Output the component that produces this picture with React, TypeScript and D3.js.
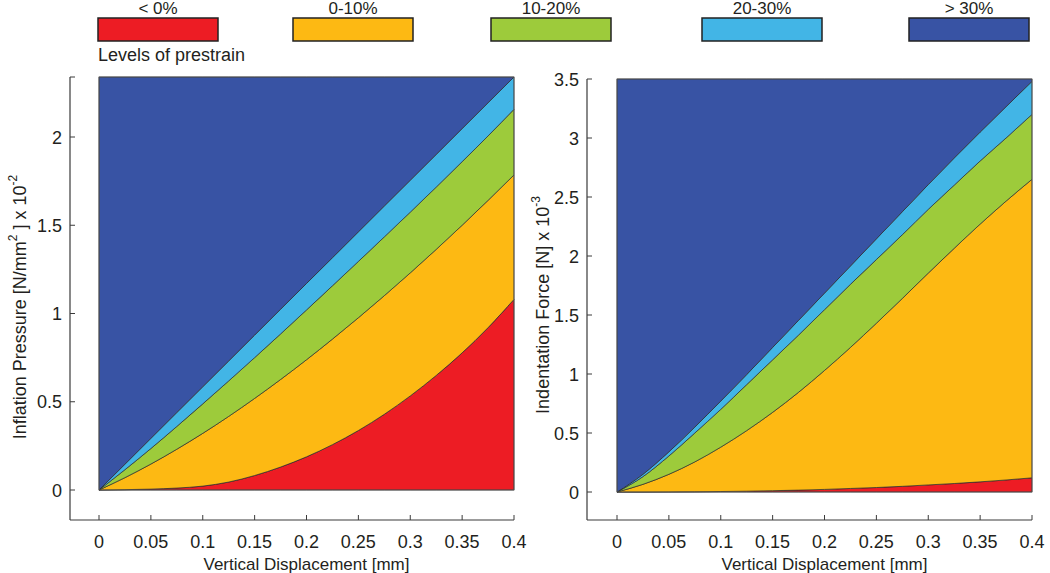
import React from 'react';
import * as d3 from 'd3';

// displacement samples [mm]
const displacement = [0, 0.025, 0.05, 0.075, 0.1, 0.125, 0.15, 0.175, 0.2, 0.225, 0.25, 0.275, 0.3, 0.325, 0.35, 0.375, 0.4];

// Inflation pressure (x 10^-2 N/mm^2) — upper boundaries of each prestrain band
const pressureRed = [0, 0.002, 0.005, 0.011, 0.022, 0.045, 0.082, 0.13, 0.188, 0.257, 0.337, 0.429, 0.533, 0.649, 0.777, 0.92, 1.08];
const pressureOrange = [0, 0.07, 0.147, 0.231, 0.321, 0.417, 0.519, 0.626, 0.738, 0.855, 0.976, 1.101, 1.23, 1.363, 1.5, 1.641, 1.785];
const pressureGreen = [0, 0.115, 0.235, 0.36, 0.488, 0.618, 0.75, 0.884, 1.02, 1.157, 1.295, 1.434, 1.574, 1.716, 1.86, 2.006, 2.157];
const pressureCyan = [0, 0.146, 0.2925, 0.439, 0.585, 0.731, 0.8775, 1.024, 1.17, 1.316, 1.4625, 1.609, 1.755, 1.901, 2.0475, 2.194, 2.34];
const pressureMax = 2.34;

// Indentation force (x 10^-3 N)
const forceRed = [0, 0, 0.001, 0.002, 0.004, 0.007, 0.011, 0.016, 0.022, 0.03, 0.038, 0.048, 0.06, 0.072, 0.086, 0.102, 0.12];
const forceOrange = [0, 0.065, 0.15, 0.255, 0.38, 0.52, 0.675, 0.845, 1.03, 1.225, 1.43, 1.64, 1.855, 2.065, 2.27, 2.465, 2.65];
const forceGreen = [0, 0.13, 0.305, 0.5, 0.7, 0.91, 1.12, 1.33, 1.545, 1.76, 1.97, 2.18, 2.395, 2.6, 2.805, 3.0, 3.2];
const forceCyan = [0, 0.15, 0.34, 0.55, 0.77, 0.995, 1.225, 1.455, 1.685, 1.915, 2.145, 2.375, 2.605, 2.83, 3.05, 3.265, 3.48];
const forceMax = 3.5;

const levelLabels = ['< 0%', '0-10%', '10-20%', '20-30%', '> 30%'];
const levelColors = ['#ED1C24', '#FDB913', '#9DCB3B', '#42B5E6', '#3853A4'];
const xTicks = [0, 0.05, 0.1, 0.15, 0.2, 0.25, 0.3, 0.35, 0.4];
const xTickLabels = ['0', '0.05', '0.1', '0.15', '0.2', '0.25', '0.3', '0.35', '0.4'];
const pressureTicks = [0, 0.5, 1, 1.5, 2];
const pressureTickLabels = ['0', '0.5', '1', '1.5', '2'];
const forceTicks = [0, 0.5, 1, 1.5, 2, 2.5, 3, 3.5];
const forceTickLabels = ['0', '0.5', '1', '1.5', '2', '2.5', '3', '3.5'];

const FONT = "'Liberation Sans', Arial, Helvetica, sans-serif";
const TXT = '#231f20';
const AX = '#3a3a3a';

type PanelProps = {
  series: number[][];
  ymax: number;
  xRange: [number, number];
  yRange: [number, number];
  axisX: number;
  axisBottom: number;
  yTicks: number[];
  yTickLabels: string[];
  showTopStub: boolean;
  title: React.ReactNode;
};

function Panel(p: PanelProps) {
  const x = d3.scaleLinear().domain([0, 0.4]).range(p.xRange);
  const y = d3.scaleLinear().domain([0, p.ymax]).range(p.yRange);
  const zeros = displacement.map(() => 0);
  const tops = displacement.map(() => p.ymax);
  const bounds = [zeros, ...p.series, tops];
  const bands = levelColors.map((c, k) => {
    const lo = bounds[k];
    const hi = bounds[k + 1];
    const a = d3
      .area<number>()
      .x((_, i) => x(displacement[i]))
      .y0((_, i) => y(lo[i]))
      .y1((_, i) => y(hi[i]))
      .curve(d3.curveMonotoneX);
    return <path key={k} d={a(displacement) || ''} fill={c} stroke="#2b2b2b" strokeWidth={0.7} strokeLinejoin="round" />;
  });
  const yTop = y(p.ymax);
  const xEnd = x(0.4);
  return (
    <g>
      {bands}
      <rect x={x(0)} y={yTop} width={xEnd - x(0)} height={y(0) - yTop} fill="none" stroke="#555" strokeWidth={0.8} />
      <line x1={p.axisX} x2={p.axisX} y1={yTop} y2={p.axisBottom} stroke={AX} strokeWidth={1.2} />
      <line x1={p.axisX} x2={xEnd} y1={p.axisBottom} y2={p.axisBottom} stroke={AX} strokeWidth={1.2} />
      {p.showTopStub && <line x1={p.axisX} x2={p.axisX + 5} y1={yTop} y2={yTop} stroke={AX} strokeWidth={1} />}
      {p.yTicks.map((t, i) => (
        <g key={'y' + i}>
          <line x1={p.axisX} x2={p.axisX + 5} y1={y(t)} y2={y(t)} stroke={AX} strokeWidth={1} />
          <text x={p.axisX - 8} y={y(t) + 6.5} textAnchor="end" fontSize={18} fill={TXT} fontFamily={FONT}>
            {p.yTickLabels[i]}
          </text>
        </g>
      ))}
      {xTicks.map((t, i) => (
        <g key={'x' + i}>
          <line x1={x(t)} x2={x(t)} y1={p.axisBottom} y2={p.axisBottom - 5} stroke={AX} strokeWidth={1} />
          <text x={x(t)} y={p.axisBottom + 28} textAnchor="middle" fontSize={18} fill={TXT} fontFamily={FONT}>
            {xTickLabels[i]}
          </text>
        </g>
      ))}
      <text x={(x(0) + xEnd) / 2} y={p.axisBottom + 50} textAnchor="middle" fontSize={17} fill={TXT} fontFamily={FONT}>
        Vertical Displacement [mm]
      </text>
      {p.title}
    </g>
  );
}

export default function App() {
  const boxX = [98, 293, 491, 702, 909];
  return (
    <svg width={1050} height={573} style={{ position: 'absolute', left: 0, top: 0, background: '#fff' }}>
      {levelLabels.map((l, i) => (
        <g key={l}>
          <rect x={boxX[i]} y={18} width={120} height={23} fill={levelColors[i]} stroke="#222" strokeWidth={1.5} />
          <text x={boxX[i] + 60} y={14} textAnchor="middle" fontSize={17} fill={TXT} fontFamily={FONT}>
            {l}
          </text>
        </g>
      ))}
      <text x={98} y={61} fontSize={18} fill={TXT} fontFamily={FONT}>
        Levels of prestrain
      </text>
      <Panel
        series={[pressureRed, pressureOrange, pressureGreen, pressureCyan]}
        ymax={pressureMax}
        xRange={[99, 514]}
        yRange={[490, 77]}
        axisX={70}
        axisBottom={520}
        yTicks={pressureTicks}
        yTickLabels={pressureTickLabels}
        showTopStub={true}
        title={
          <text transform="translate(26,307) rotate(-90)" textAnchor="middle" fontSize={18} fill={TXT} fontFamily={FONT}>
            Inflation Pressure [N/mm<tspan dy={-9} fontSize={12}>2</tspan>
            <tspan dy={9}> ] x 10</tspan>
            <tspan dy={-9} fontSize={12}>-2</tspan>
          </text>
        }
      />
      <Panel
        series={[forceRed, forceOrange, forceGreen, forceCyan]}
        ymax={forceMax}
        xRange={[617, 1032]}
        yRange={[492, 79]}
        axisX={587}
        axisBottom={520}
        yTicks={forceTicks}
        yTickLabels={forceTickLabels}
        showTopStub={false}
        title={
          <text transform="translate(549,305) rotate(-90)" textAnchor="middle" fontSize={18} fill={TXT} fontFamily={FONT}>
            Indentation Force [N] x 10<tspan dy={-9} fontSize={12}>-3</tspan>
          </text>
        }
      />
    </svg>
  );
}
